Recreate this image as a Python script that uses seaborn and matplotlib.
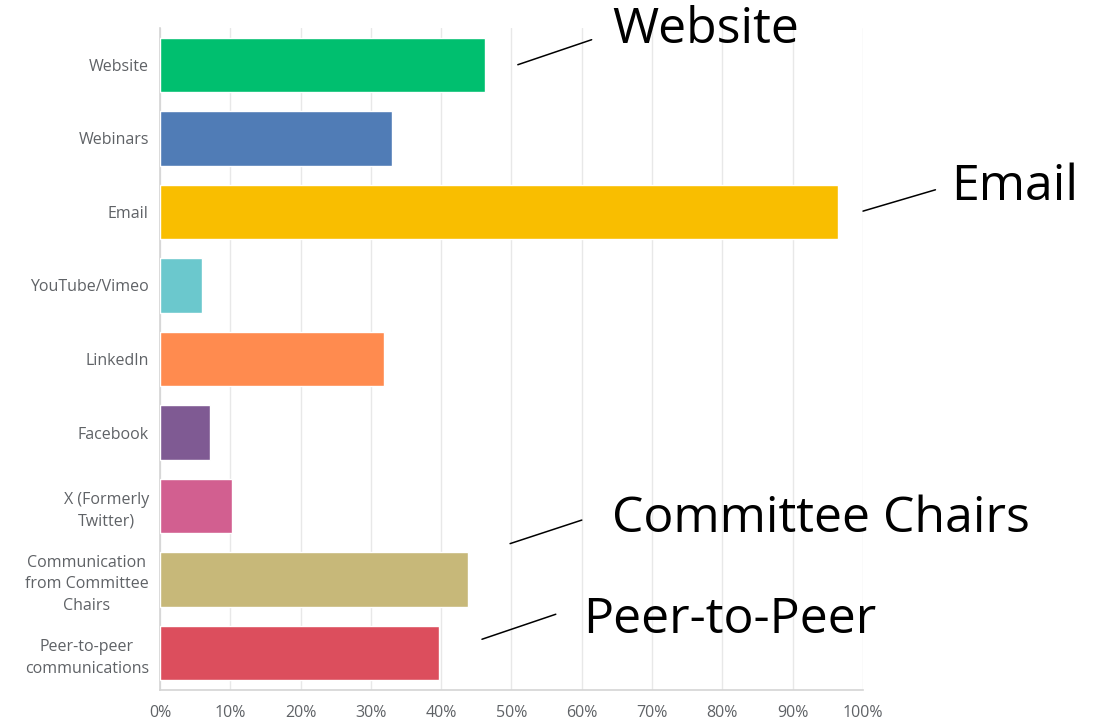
import pandas as pd
import seaborn as sns
import matplotlib.pyplot as plt
from matplotlib.ticker import PercentFormatter

channels = [
    "Website",
    "Webinars",
    "Email",
    "YouTube/Vimeo",
    "LinkedIn",
    "Facebook",
    "X (Formerly\nTwitter)",
    "Communication\nfrom Committee\nChairs",
    "Peer-to-peer\ncommunications",
]
share = [46.3, 33.0, 96.5, 6.0, 31.8, 7.1, 10.3, 43.8, 39.7]
colors = ["#00BF6F", "#507CB6", "#F9BE00", "#6BC8CD", "#FF8B4F",
          "#7F5A93", "#D25F90", "#C7B879", "#DC4E5D"]

# callouts: label, line start (x, category idx), line end, text baseline
callouts = [
    ("Website", (50.9, 0.0), (61.4, -0.34), (64.3, -0.30)),
    ("Email", (100.0, 1.99), (110.3, 1.70), (112.6, 1.84)),
    ("Committee Chairs", (49.8, 6.51), (60.0, 6.19), (64.3, 6.35)),
    ("Peer-to-Peer", (45.8, 7.81), (56.3, 7.47), (60.2, 7.72)),
]

df = pd.DataFrame({"channel": channels, "share": share})

sns.set_style("white")
plt.rcParams["font.family"] = ["Open Sans", "DejaVu Sans"]

fig = plt.figure(figsize=(11.07, 7.22), dpi=100)
ax = fig.add_axes([0.1445, 0.0443, 0.6351, 0.9170])

sns.barplot(data=df, x="share", y="channel", hue="channel", palette=colors,
            legend=False, width=0.74, saturation=1, ax=ax, zorder=3)

ax.set_xlim(0, 100)
ax.set_ylim(8.5, -0.5)
ax.set_xticks(range(0, 101, 10))
ax.xaxis.set_major_formatter(PercentFormatter(decimals=0))
ax.grid(axis="x", color="#e8e8e8", linewidth=1, zorder=0)
ax.set_xlabel("")
ax.set_ylabel("")
for s in ["top", "right"]:
    ax.spines[s].set_visible(False)
for s in ["left", "bottom"]:
    ax.spines[s].set_color("#d4d4d4")
    ax.spines[s].set_linewidth(1.2)
ax.tick_params(axis="y", length=0, pad=8, labelsize=11.5, labelcolor="#5f6266")
ax.tick_params(axis="x", length=0, pad=11, labelsize=11.5, labelcolor="#5f6266")
for t in ax.get_yticklabels():
    t.set_horizontalalignment("right")
    t.set_multialignment("center")
    t.set_linespacing(1.45)

for label, p0, p1, ptxt in callouts:
    ax.annotate("", xy=p0, xytext=p1, annotation_clip=False,
                arrowprops=dict(arrowstyle="-", color="black", lw=1.1,
                                shrinkA=0, shrinkB=0))
    ax.text(ptxt[0], ptxt[1], label, fontsize=36, color="black",
            va="baseline", ha="left", clip_on=False)

fig.savefig("out.png", dpi=100)
